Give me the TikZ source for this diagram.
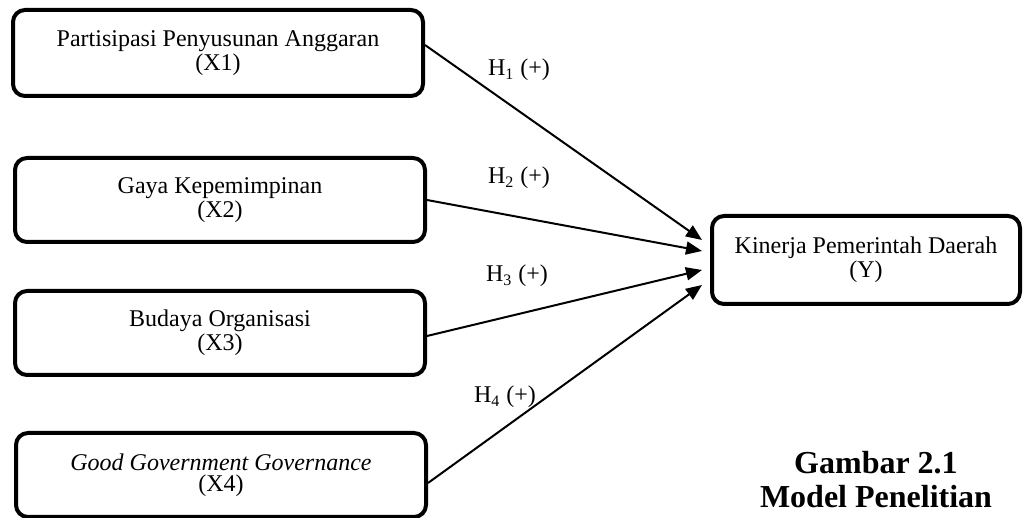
\documentclass[tikz,border=0pt]{standalone}
\usepackage{fontspec}
\setmainfont{Liberation Serif}
\usetikzlibrary{arrows.meta, positioning}

\begin{document}
\begin{tikzpicture}[x=0.5pt, y=-0.5pt,
      varbox/.style={draw, line width=2pt, rounded corners=6pt,
        align=center, minimum width=205pt, minimum height=42pt,
        font=\fontsize{12}{10.5}\selectfont},
      hyp/.style={font=\fontsize{12}{14}\selectfont},
      link/.style={->, line width=1pt},
      >={Triangle[length=8pt, width=6.5pt]}
    ]
      \useasboundingbox (0,0) rectangle (1025,518);
      % independent variables
      \node[varbox, minimum height=43pt] (x1) at (218,53)
        {Partisipasi Penyusunan Anggaran\\(X1)};
      \node[varbox] (x2) at (220,200) {Gaya Kepemimpinan\\(X2)};
      \node[varbox] (x3) at (220,333) {Budaya Organisasi\\(X3)};
      \node[varbox] (x4) at (221,475)
        {\textit{Good Government Governance}\\(X4)};
      % dependent variable
      \node[varbox, minimum width=154pt, minimum height=44pt] (y)
        at (866,260) {Kinerja Pemerintah Daerah\\(Y)};
      \draw[link] ([yshift=4pt]x1.east) -- ([xshift=-4pt, yshift=10pt]y.west);
      \draw[link] (x2.east) -- ([xshift=-4pt, yshift=4.5pt]y.west);
      \draw[link] ([yshift=-1.5pt]x3.east) -- ([xshift=-4pt, yshift=-5pt]y.west);
      \draw[link] ([yshift=-4pt]x4.east) -- ([xshift=-4pt, yshift=-12.5pt]y.west);
      \node[hyp] (h1) at (519,70) {H\textsubscript{1} (+)};
      \node[hyp] (h2) at (519,178) {H\textsubscript{2} (+)};
      \node[hyp] (h3) at (517,276) {H\textsubscript{3} (+)};
      \node[hyp] (h4) at (505,397) {H\textsubscript{4} (+)};
      \node[font=\fontsize{16}{17}\selectfont\bfseries, align=center]
        (caption) at (876,480) {Gambar 2.1\\Model Penelitian};
    \end{tikzpicture}
\end{document}
